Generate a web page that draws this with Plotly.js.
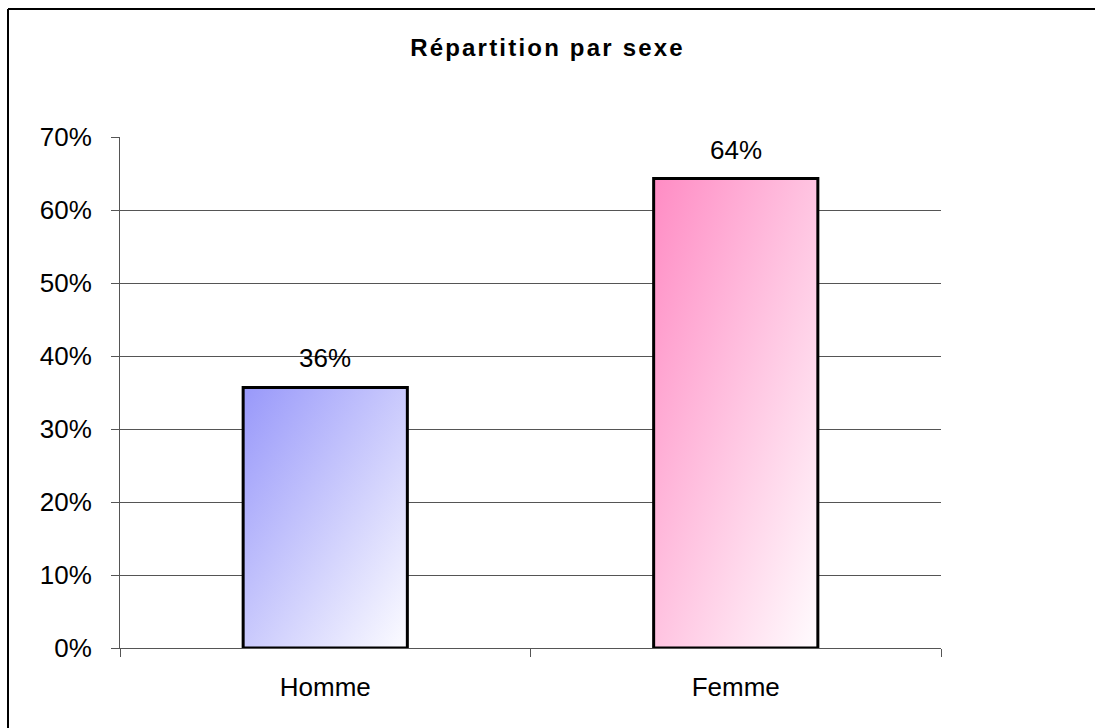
<!DOCTYPE html>
<html>
<head>
<meta charset="utf-8">
<script src="https://cdn.plot.ly/plotly-3.0.1.min.js"></script>
<style>html,body{margin:0;padding:0;background:#fff;}#chart{width:1095px;height:728px;}</style>
</head>
<body>
<div id="chart"></div>
<script>
const categories = ["Homme", "Femme"];
const values = [0.357, 0.643];
const labels = ["36%", "64%"];
const barColors = ["#b4b4fa", "#ffaed2"];

const trace = {
  type: "bar",
  x: categories,
  y: values,
  width: 0.4,
  marker: { color: barColors, line: { color: "#000", width: 3 } },
  hoverinfo: "none"
};

const annotations = categories.map((c, i) => ({
  x: c, y: values[i], text: labels[i], showarrow: false,
  yanchor: "bottom", yshift: 12,
  font: { family: "Liberation Sans, Arial, sans-serif", size: 26, color: "#000" }
}));

const X0 = (8 - 120) / 821, Y0 = (648 - 9) / 511;
const layout = {
  width: 1095, height: 728,
  margin: { l: 120, r: 154, t: 137, b: 80 },
  paper_bgcolor: "#fff", plot_bgcolor: "#fff",
  showlegend: false,
  title: { text: "<b>Répartition par sexe</b>", x: 0.5, xref: "container", y: 1 - 48 / 728, yref: "container", yanchor: "middle",
    font: { family: "Liberation Sans, Arial, sans-serif", size: 24, color: "#000" } },
  font: { family: "Liberation Sans, Arial, sans-serif", size: 26, color: "#000" },
  xaxis: {
    type: "category", tickson: "boundaries", ticks: "outside", ticklen: 8, tickcolor: "#555",
    showline: true, linecolor: "#555", linewidth: 1, showgrid: false,
    ticklabelstandoff: 16, tickfont: { size: 26 }
  },
  yaxis: {
    range: [0, 0.7], dtick: 0.1, tickformat: ".0%", ticks: "outside", ticklen: 8, tickcolor: "#555",
    showline: true, linecolor: "#555", linewidth: 1, showgrid: true, gridcolor: "#555", gridwidth: 1,
    zeroline: false, ticklabelstandoff: 14, tickfont: { size: 26 }
  },
  annotations: annotations,
  shapes: [
    { type: "line", xref: "paper", yref: "paper", x0: X0, x1: 1.3, y0: Y0, y1: Y0, line: { color: "#000", width: 2 } },
    { type: "line", xref: "paper", yref: "paper", x0: X0, x1: X0, y0: Y0, y1: -0.3, line: { color: "#000", width: 2 } }
  ]
};

Plotly.newPlot("chart", [trace], layout, { staticPlot: true, displayModeBar: false }).then(() => {
  const svg = document.querySelector("#chart .main-svg");
  const ns = "http://www.w3.org/2000/svg";
  let defs = svg.querySelector("defs");
  if (!defs) { defs = document.createElementNS(ns, "defs"); svg.insertBefore(defs, svg.firstChild); }
  const grads = [["gH", "#9898fa", "#fcfcff"], ["gF", "#ff8cc4", "#fffcfe"]];
  grads.forEach(([id, c1, c2]) => {
    const g = document.createElementNS(ns, "linearGradient");
    g.setAttribute("id", id);
    g.setAttribute("x1", "0"); g.setAttribute("y1", "0"); g.setAttribute("x2", "1"); g.setAttribute("y2", "1");
    const s1 = document.createElementNS(ns, "stop"); s1.setAttribute("offset", "0"); s1.setAttribute("stop-color", c1);
    const s2 = document.createElementNS(ns, "stop"); s2.setAttribute("offset", "1"); s2.setAttribute("stop-color", c2);
    g.appendChild(s1); g.appendChild(s2); defs.appendChild(g);
  });
  const paths = document.querySelectorAll("#chart .trace.bars .point path");
  paths.forEach((p, i) => { p.style.fill = "url(#" + grads[i][0] + ")"; });
  const t = document.querySelector("#chart .gtitle");
  if (t) { t.style.letterSpacing = "2.2px"; }
});
</script>
</body>
</html>
